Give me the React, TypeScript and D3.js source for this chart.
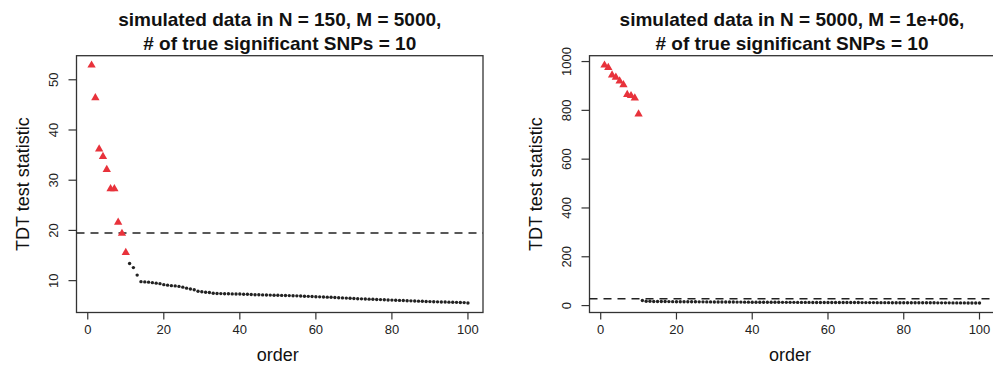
import React from "react";
import * as d3 from "d3";

// left panel: N = 150, M = 5000
const leftTop = [52.9, 46.4, 36.2, 34.7, 32.1, 28.3, 28.3, 21.6, 19.4, 15.6];
const leftRest = [
  13.4, 12.6, 11.1, 9.8, 9.75, 9.7, 9.6, 9.5, 9.4, 9.2,
  9.1, 9.0, 8.95, 8.85, 8.7, 8.5, 8.35, 8.2, 7.9, 7.8,
  7.7, 7.65, 7.5, 7.45, 7.42, 7.4, 7.38, 7.36, 7.35, 7.33,
  7.3, 7.28, 7.25, 7.2, 7.18, 7.16, 7.14, 7.12, 7.1, 7.08,
  7.06, 7.04, 7.02, 7.0, 6.97, 6.93, 6.9, 6.87, 6.84, 6.8,
  6.77, 6.74, 6.71, 6.68, 6.65, 6.6, 6.56, 6.52, 6.48, 6.44,
  6.4, 6.37, 6.34, 6.31, 6.28, 6.25, 6.22, 6.19, 6.16, 6.13,
  6.1, 6.07, 6.04, 6.01, 5.98, 5.95, 5.92, 5.89, 5.86, 5.83,
  5.8, 5.78, 5.76, 5.74, 5.72, 5.7, 5.68, 5.66, 5.63, 5.55,
];
const leftCutoff = 19.5;
const leftTicksY = [10, 20, 30, 40, 50];

// right panel: N = 5000, M = 1e+06
const rightTop = [985, 975, 945, 935, 920, 905, 865, 860, 850, 785];
const rightRest = [
  21, 18, 17.5, 17, 16.8, 16.6, 16.4, 16.2, 16, 15.9,
  15.8, 15.7, 15.6, 15.5, 15.4, 15.3, 15.2, 15.1, 15, 14.9,
  14.8, 14.7, 14.6, 14.5, 14.4, 14.3, 14.2, 14.1, 14, 13.9,
  13.8, 13.7, 13.6, 13.5, 13.45, 13.4, 13.35, 13.3, 13.25, 13.2,
  13.15, 13.1, 13.05, 13, 12.95, 12.9, 12.85, 12.8, 12.75, 12.7,
  12.65, 12.6, 12.55, 12.5, 12.45, 12.4, 12.35, 12.3, 12.25, 12.2,
  12.15, 12.1, 12.05, 12, 11.95, 11.9, 11.85, 11.8, 11.75, 11.7,
  11.65, 11.6, 11.55, 11.5, 11.45, 11.4, 11.35, 11.3, 11.25, 11.2,
  11.15, 11.1, 11.05, 11, 10.95, 10.9, 10.85, 10.8, 10.7, 10.6,
];
const rightCutoff = 28;
const rightTicksY = [0, 200, 400, 600, 800, 1000];

const ticksX = [0, 20, 40, 60, 80, 100];

const FONT = "'Liberation Sans', Arial, Helvetica, sans-serif";
const RED = "#e8323b";
const INK = "#222";

// R-style 4% padding around the data range
const pad = (lo, hi) => {
  const r = hi - lo;
  return [lo - 0.04 * r, hi + 0.04 * r];
};

const Panel = ({ left, right, top, bottom, title1, title2, topVals, restVals, cutoff, yTicks }) => {
  const all = topVals.concat(restVals);
  const pts = all.map((v, i) => ({ x: i + 1, y: v, top: i < topVals.length }));
  const x = d3.scaleLinear().domain(pad(1, all.length)).range([left, right]);
  const y = d3.scaleLinear().domain(pad(d3.min(all), d3.max(all))).range([bottom, top]);
  const tri = d3.symbol(d3.symbolTriangle).size(30)();
  const cx = (left + right) / 2;
  const cy = (top + bottom) / 2;
  return (
    <g fontFamily={FONT}>
      <text x={cx} y={26} textAnchor="middle" fontWeight="bold" fontSize={19} fill="#111">{title1}</text>
      <text x={cx} y={50} textAnchor="middle" fontWeight="bold" fontSize={19} fill="#111">{title2}</text>
      <rect x={left} y={top} width={right - left} height={bottom - top} fill="none" stroke="#333" strokeWidth={1.3} />
      {ticksX.map(t => (
        <g key={"x" + t}>
          <line x1={x(t)} x2={x(t)} y1={bottom} y2={bottom + 7} stroke="#333" strokeWidth={1.2} />
          <text x={x(t)} y={334} textAnchor="middle" fontSize={13} fill="#222">{t}</text>
        </g>
      ))}
      {yTicks.map(t => (
        <g key={"y" + t}>
          <line x1={left - 8} x2={left} y1={y(t)} y2={y(t)} stroke="#333" strokeWidth={1.2} />
          <text transform={`translate(${left - 19},${y(t)}) rotate(-90)`} textAnchor="middle" fontSize={13} fill="#222">{t}</text>
        </g>
      ))}
      <text transform={`translate(${left - 48},${cy}) rotate(-90)`} textAnchor="middle" fontSize={18} fill="#111">TDT test statistic</text>
      <text x={(x(0) + x(100)) / 2} y={361} textAnchor="middle" fontSize={18} fill="#111">order</text>
      <line x1={left} x2={right} y1={y(cutoff)} y2={y(cutoff)} stroke="#222" strokeWidth={1.5} strokeDasharray="8,6" />
      {pts.filter(p => !p.top).map(p => (
        <circle key={p.x} cx={x(p.x)} cy={y(p.y)} r={1.7} fill={INK} />
      ))}
      {pts.filter(p => p.top).map(p => (
        <path key={p.x} d={tri} transform={`translate(${x(p.x)},${y(p.y)})`} fill={RED} />
      ))}
    </g>
  );
};

export default function App() {
  return (
    <svg width={993} height={379} style={{ position: "absolute", left: 0, top: 0, background: "#fff" }}>
      <Panel left={76.5} right={483} top={55.7} bottom={312.5}
        title1="simulated data in N = 150, M = 5000," title2="# of true significant SNPs = 10"
        topVals={leftTop} restVals={leftRest} cutoff={leftCutoff} yTicks={leftTicksY} />
      <Panel left={589.5} right={994.5} top={55.7} bottom={312.5}
        title1="simulated data in N = 5000, M = 1e+06," title2="# of true significant SNPs = 10"
        topVals={rightTop} restVals={rightRest} cutoff={rightCutoff} yTicks={rightTicksY} />
    </svg>
  );
}
